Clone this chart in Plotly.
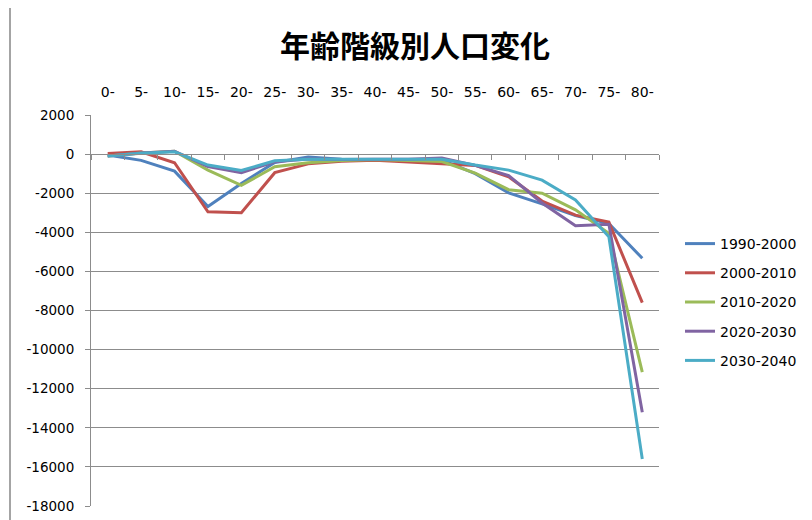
import plotly.graph_objects as go

categories = ["0-", "5-", "10-", "15-", "20-", "25-", "30-", "35-", "40-", "45-", "50-",
              "55-", "60-", "65-", "70-", "75-", "80-"]

s1990_2000 = [-50, -320, -870, -2680, -1500, -430, -150, -260, -300, -300, -300,
              -1000, -1980, -2550, -3150, -3550, -5330]
s2000_2010 = [30, 120, -440, -2950, -3000, -950, -500, -360, -310, -400, -500,
              -580, -1160, -2400, -3120, -3480, -7600]
s2010_2020 = [-100, 50, 150, -820, -1600, -650, -440, -330, -280, -320, -380,
              -970, -1820, -2000, -2850, -4050, -11150]
s2020_2030 = [-100, 50, 150, -640, -950, -390, -250, -280, -260, -260, -200,
              -580, -1100, -2500, -3670, -3590, -13200]
s2030_2040 = [-100, 40, 120, -560, -840, -340, -260, -260, -240, -240, -260,
              -560, -820, -1330, -2350, -4230, -15600]

series_names = ["1990-2000", "2000-2010", "2010-2020", "2020-2030", "2030-2040"]
series_values = [s1990_2000, s2000_2010, s2010_2020, s2020_2030, s2030_2040]
colors = ["#4F81BD", "#C0504D", "#9BBB59", "#8064A2", "#4BACC6"]

y_tickvals = [2000, 0, -2000, -4000, -6000, -8000, -10000, -12000, -14000, -16000, -18000]
y_ticktext = ["2000", "0", "-2000", "-4000", "-6000", "-8000", "-10000", "-12000",
              "-14000", "-16000", "-18000"]

title_text = "年齢階級別人口変化"

FONT = "DejaVu Sans"
GRID = "#8C8C8C"

W, H = 804, 512
L, T, PW, PH = 83, 107, 568, 391

fig = go.Figure()

# invisible helper trace to drive the category axis drawn at y = 0
fig.add_trace(go.Scatter(x=categories, y=s1990_2000, xaxis="x2", yaxis="y",
                         mode="lines", line=dict(width=0), opacity=0,
                         showlegend=False, hoverinfo="skip"))

for name, vals, col in zip(series_names, series_values, colors):
    fig.add_trace(go.Scatter(x=categories, y=vals, name=name, mode="lines",
                             line=dict(color=col, width=3), legendgroup=name))

fig.update_layout(
    width=W, height=H,
    margin=dict(l=L, r=W - L - PW, t=T, b=H - T - PH, autoexpand=False),
    paper_bgcolor="white", plot_bgcolor="white",
    font=dict(family=FONT, size=14, color="#000000"),
    title=dict(text=title_text, x=407 / W, xanchor="center", y=1 - 38 / H,
               yanchor="middle",
               font=dict(family="Noto Sans CJK JP", size=30, color="#000000",
                         weight="bold")),
    xaxis=dict(type="category", categoryorder="array", categoryarray=categories,
               range=[-0.5, 16.5], side="top", showgrid=False, showline=False,
               ticks="", zeroline=False, ticklabelstandoff=14, automargin=False,
               tickfont=dict(family=FONT, size=14)),
    xaxis2=dict(type="category", categoryorder="array", categoryarray=categories,
                range=[-0.5, 16.5], overlaying="x", anchor="free", position=0.9,
                side="bottom", showline=True, linecolor=GRID, linewidth=1,
                ticks="outside", tickson="boundaries", ticklen=5, tickcolor=GRID,
                showticklabels=False, showgrid=False, zeroline=False,
                automargin=False),
    yaxis=dict(range=[-18000, 2000], tickvals=y_tickvals, ticktext=y_ticktext,
               showgrid=True, gridcolor=GRID, gridwidth=1, zeroline=False,
               showline=True, linecolor=GRID, linewidth=1, ticks="outside",
               ticklen=5, tickcolor=GRID, ticklabelstandoff=8, automargin=False,
               tickfont=dict(family=FONT, size=13.5)),
    legend=dict(x=(680 - 91) / PW, xanchor="left", y=(498 - 220) / PH,
                yanchor="top", tracegroupgap=8, bgcolor="rgba(0,0,0,0)",
                font=dict(family=FONT, size=14)),
    shapes=[dict(type="rect", xref="paper", yref="paper",
                 x0=(2 - L) / PW, x1=2.0, y0=-1.0, y1=(498 + 2) / PH,
                 line=dict(color="#868686", width=1.5), layer="below")],
)

fig.write_html("out.html")
